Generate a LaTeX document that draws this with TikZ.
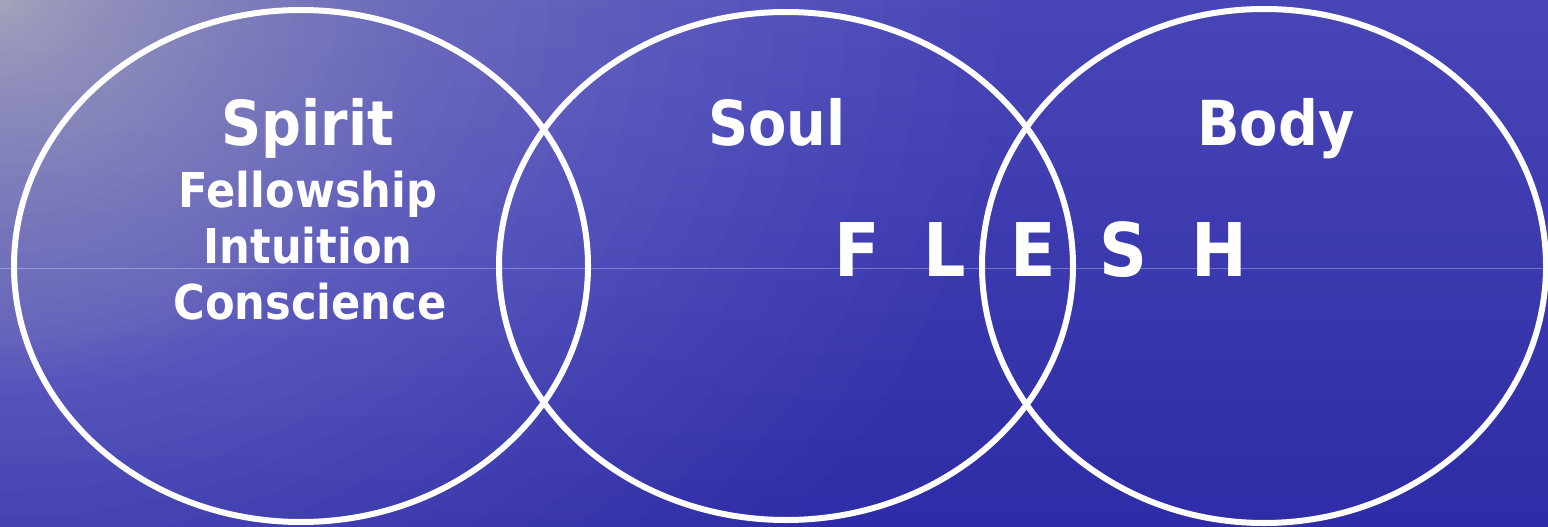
\documentclass[tikz,border=0pt]{standalone}
\usepackage{fontspec}
\usetikzlibrary{shapes.geometric}
\newfontfamily\tfont{DejaVu Sans}[FakeStretch=0.9]
\definecolor{bgtop}{HTML}{4846B6}
\definecolor{bgbot}{HTML}{2E2CA6}
\definecolor{glow}{HTML}{E4E4FA}
\tikzset{
  ring/.style={draw=white, line width=6pt, ellipse, inner sep=0pt},
  bigtxt/.style={text=white, font=\tfont\bfseries\fontsize{62}{62}\selectfont, anchor=base, inner sep=0pt},
  smalltxt/.style={text=white, font=\tfont\bfseries\fontsize{48}{48}\selectfont, anchor=base, inner sep=0pt},
  fleshtxt/.style={text=white, font=\tfont\bfseries\fontsize{74}{74}\selectfont, anchor=base, inner sep=0pt},
}
\begin{document}
\begin{tikzpicture}[x=1pt,y=-1pt]
\useasboundingbox (0,0) rectangle (1548,527);
\begin{scope}
\clip (0,0) rectangle (1548,527);
\shade[top color=bgtop, bottom color=bgbot] (0,0) rectangle (1548,527);
\foreach \i in {1,...,50}{
  \pgfmathsetmacro{\fr}{(\i/50)^2}
  \fill[glow, opacity=0.017] (0,0) ellipse ({1000*\fr} and {850*\fr});
}
\foreach \i in {1,...,30}{
  \pgfmathsetmacro{\fr}{(\i/30)}
  \fill[glow, opacity=0.014] (0,0) ellipse ({420*\fr} and {380*\fr});
}
\draw[white, opacity=0.3, line width=0.8pt] (0,268) -- (1548,268);
\end{scope}
\node[ring, minimum width=574pt, minimum height=512pt] (spiritE) at (301,266) {};
\node[ring, minimum width=574pt, minimum height=508pt] (soulE) at (786,266) {};
\node[ring, minimum width=564pt, minimum height=514pt] (bodyE) at (1264,266) {};
\node[bigtxt] (spirit) at (308,145) {Spirit};
\node[smalltxt] (fellow) at (308,207) {Fellowship};
\node[smalltxt] (intu) at (308,263) {Intuition};
\node[smalltxt] (consc) at (310,319) {Conscience};
\node[bigtxt] (soul) at (777,145) {Soul};
\node[bigtxt] (body) at (1276,145) {Body};
\node[fleshtxt] (flesh) at (1041,276) {F\hspace{44pt}L\hspace{44pt}E\hspace{44pt}S\hspace{44pt}H};
\end{tikzpicture}
\end{document}
